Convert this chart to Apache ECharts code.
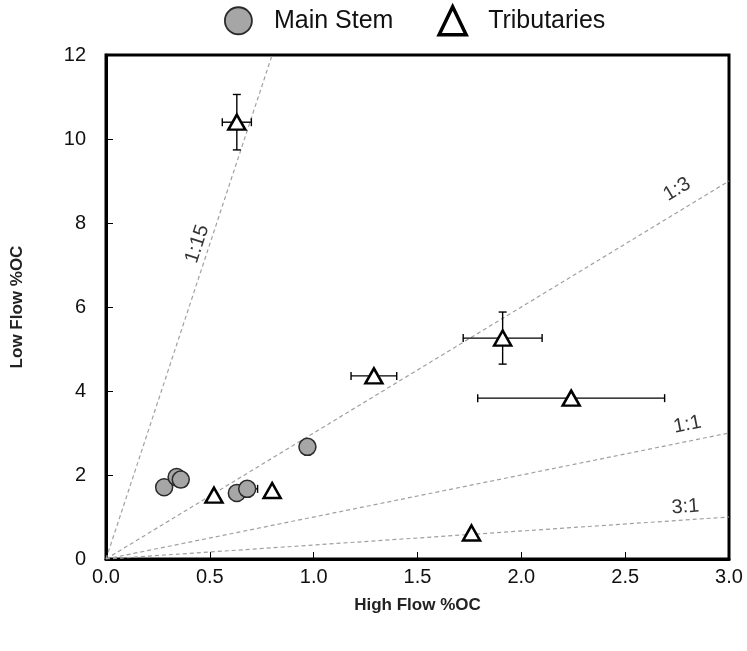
<!DOCTYPE html>
<html>
<head>
<meta charset="utf-8">
<script src="https://cdn.jsdelivr.net/npm/echarts@6/dist/echarts.min.js"></script>
<style>html,body{margin:0;padding:0;background:#fff;}#c{width:747px;height:651px;}</style>
</head>
<body>
<div id="c"></div>
<script>
// Main Stem data
var mainX    = [0.28, 0.34, 0.36, 0.63, 0.68, 0.97];
var mainY    = [1.71, 1.95, 1.89, 1.57, 1.67, 2.67];
var mainXErr = [0,    0,    0,    0,    0.05, 0   ];
var mainYErr = [0,    0,    0,    0,    0,    0   ];

// Tributaries data
var tribX    = [0.63, 1.29, 1.91, 2.24, 0.52, 0.80, 1.76];
var tribY    = [10.4, 4.36, 5.26, 3.83, 1.52, 1.63, 0.62];
var tribXErr = [0.07, 0.11, 0.19, 0.45, 0,    0,    0   ];
var tribYErr = [0.66, 0,    0.62, 0,    0,    0,    0   ];

// Reference ratio lines (High:Low)
var refNames = ['1:15', '1:3', '1:1', '3:1'];
var refEnds  = [[0.8, 12], [3, 9], [3, 3], [3, 1]];
var refLabelPos = [[0.44, 7.5], [2.75, 8.8], [2.80, 3.2], [2.79, 1.24]];
var refLabelRot = [72, 31, 11, 4];

var xTicks = [0, 0.5, 1, 1.5, 2, 2.5, 3];
var yTicks = [0, 2, 4, 6, 8, 10, 12];

function pairs(xs, ys) { return xs.map(function (x, i) { return [x, ys[i]]; }); }
function errData(xs, ys, ex, ey) { return xs.map(function (x, i) { return [x, ys[i], ex[i], ey[i]]; }); }

function renderErr(params, api) {
  var x = api.value(0), y = api.value(1), ex = api.value(2), ey = api.value(3);
  var children = [];
  var cap = 4;
  var st = { stroke: '#000', lineWidth: 1.4 };
  if (ex > 0) {
    var l = api.coord([x - ex, y]), r = api.coord([x + ex, y]);
    children.push({ type: 'line', shape: { x1: l[0], y1: l[1], x2: r[0], y2: r[1] }, style: st });
    children.push({ type: 'line', shape: { x1: l[0], y1: l[1] - cap, x2: l[0], y2: l[1] + cap }, style: st });
    children.push({ type: 'line', shape: { x1: r[0], y1: r[1] - cap, x2: r[0], y2: r[1] + cap }, style: st });
  }
  if (ey > 0) {
    var t = api.coord([x, y + ey]), b = api.coord([x, y - ey]);
    children.push({ type: 'line', shape: { x1: t[0], y1: t[1], x2: b[0], y2: b[1] }, style: st });
    children.push({ type: 'line', shape: { x1: t[0] - cap, y1: t[1], x2: t[0] + cap, y2: t[1] }, style: st });
    children.push({ type: 'line', shape: { x1: b[0] - cap, y1: b[1], x2: b[0] + cap, y2: b[1] }, style: st });
  }
  return { type: 'group', children: children };
}

var series = [];
refEnds.forEach(function (e, i) {
  series.push({
    type: 'line', name: 'ref' + refNames[i], data: [[0, 0], e],
    symbol: 'none', silent: true, z: 1,
    lineStyle: { color: '#a0a0a0', width: 1.2, type: [4, 3] }
  });
});
series.push({
  type: 'scatter', name: 'refLabels', symbolSize: 1, silent: true, z: 4,
  itemStyle: { color: 'rgba(0,0,0,0)' },
  label: { show: true, position: 'inside', color: '#000', fontSize: 20,
    fontFamily: 'Liberation Sans', formatter: function (p) { return p.name; } },
  data: refLabelPos.map(function (p, i) {
    return { name: refNames[i], value: p, label: { rotate: refLabelRot[i] } };
  })
});
series.push({ type: 'custom', name: 'errMain', renderItem: renderErr, z: 2, silent: true,
  data: errData(mainX, mainY, mainXErr, mainYErr), encode: { x: 0, y: 1 } });
series.push({ type: 'custom', name: 'errTrib', renderItem: renderErr, z: 2, silent: true,
  data: errData(tribX, tribY, tribXErr, tribYErr), encode: { x: 0, y: 1 } });
series.push({
  type: 'scatter', name: 'Main Stem', data: pairs(mainX, mainY), z: 3,
  symbol: 'circle', symbolSize: 17,
  itemStyle: { color: '#a6a6a6', borderColor: '#2a2a2a', borderWidth: 1.5, opacity: 1 }
});
series.push({
  type: 'scatter', name: 'Tributaries', data: pairs(tribX, tribY), z: 3,
  symbol: 'triangle', symbolSize: [17, 15],
  itemStyle: { color: '#ffffff', borderColor: '#000', borderWidth: 2.5, opacity: 1 }
});

var chart = echarts.init(document.getElementById('c'));
chart.setOption({
  animation: false,
  backgroundColor: '#fff',
  textStyle: { fontFamily: 'Liberation Sans' },
  legend: {
    data: [
      { name: 'Main Stem', icon: 'circle', itemStyle: { color: '#a6a6a6', borderColor: '#2a2a2a', borderWidth: 1.8 } },
      { name: 'Tributaries', icon: 'triangle', itemStyle: { color: '#fff', borderColor: '#000', borderWidth: 3.5 } }
    ],
    left: 219, top: 0, itemWidth: 27, itemHeight: 28, itemGap: 44,
    textStyle: { fontSize: 25, color: '#111', padding: [4, 0, 0, 17] }
  },
  grid: { left: 106, right: 18, top: 55, bottom: 92, show: true, borderColor: '#000', borderWidth: 3 },
  xAxis: {
    type: 'value', min: 0, max: 3, interval: 0.5,
    name: 'High Flow %OC', nameLocation: 'middle', nameGap: 38,
    nameTextStyle: { fontSize: 17, fontWeight: 'bold', color: '#222' },
    axisLine: { show: true, lineStyle: { color: '#000', width: 3 } },
    axisTick: { show: true, inside: true, length: 7, lineStyle: { color: '#000', width: 1 } },
    axisLabel: { fontSize: 20, color: '#111', margin: 8,
      formatter: function (v) { return v.toFixed(1); } },
    splitLine: { show: false }
  },
  yAxis: {
    type: 'value', min: 0, max: 12, interval: 2,
    name: 'Low Flow %OC', nameLocation: 'middle', nameGap: 80, nameRotate: 90,
    nameTextStyle: { fontSize: 17, fontWeight: 'bold', color: '#222' },
    axisLine: { show: true, lineStyle: { color: '#000', width: 3 } },
    axisTick: { show: true, inside: true, length: 7, lineStyle: { color: '#000', width: 1 } },
    axisLabel: { fontSize: 20, color: '#111', margin: 20 },
    splitLine: { show: false }
  },
  series: series
});
</script>
</body>
</html>
